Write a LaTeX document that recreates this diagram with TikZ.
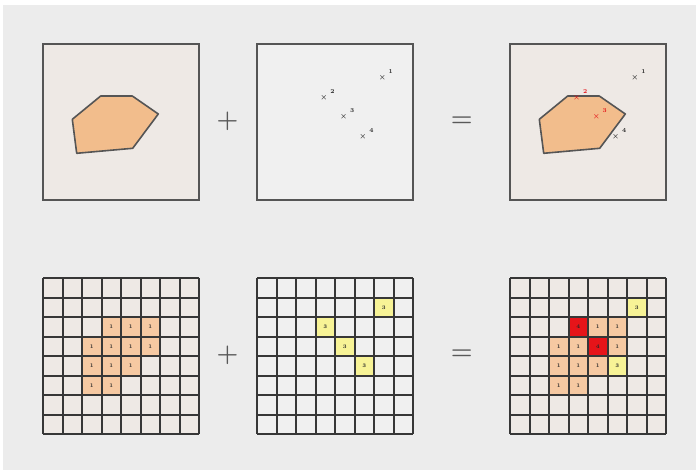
\documentclass[tikz,border=0pt]{standalone}
\usepackage{tikz}
\usepackage{bm}
\usepackage[svgnames]{xcolor}
\usetikzlibrary{positioning}
\definecolor{mbg}{RGB}{236, 236, 236}
\definecolor{mpaper}{RGB}{238, 233, 229}
\definecolor{mlight}{RGB}{240, 240, 240}
\definecolor{mpoly}{RGB}{242, 189, 140}
\definecolor{morange}{RGB}{246, 201, 162}
\definecolor{myellow}{RGB}{247, 243, 150}
\definecolor{mred}{RGB}{230, 20, 25}
\definecolor{mframe}{RGB}{85, 85, 85}
\definecolor{mgrid}{RGB}{55, 55, 55}
\tikzset{frame/.style = {draw=mframe, line width=2},
  gridline/.style = {draw=mgrid, line width=1.9},
  cellnum/.style = {inner sep=0, font=\fontsize{5.5}{5.5}\selectfont\bfseries, text=black!85},
  xmark/.style = {inner sep=0, font=\fontsize{7}{7}\selectfont\boldmath, text=black!85},
  ptlabel/.style = {inner sep=0, font=\fontsize{6}{6}\selectfont\bfseries, text=black!85},
  opsign/.style = {inner sep=0, font=\fontsize{27}{27}\selectfont, text=black!65}}
% cell: grid left, column, row, colour, number, name
\newcommand{\cellat}[6]{
  \fill[#4] ({#1+round(#2*19.5)}, {278+round(#3*19.5)})
    rectangle ({#1+round((#2+1)*19.5)}, {278+round((#3+1)*19.5)});
  \node[cellnum] (#6) at ({#1+(#2+0.5)*19.5}, {278+(#3+0.5)*19.5}) {#5};
}
\newcommand{\polyat}[1]{
  \draw[fill=mpoly, draw=mframe, line width=1.6, line join=round, shift={(#1, 0)}]
    (57.7, 96) -- (89.3, 96) -- (115.3, 114) -- (89.7, 148.3)
    -- (33.7, 153.3) -- (29.3, 119.3) -- cycle;
}
\newcommand{\gridat}[1]{
  \foreach \i in {0, ..., 8} {
    \draw[gridline] ({#1+round(\i*19.5)}, 278) -- ({#1+round(\i*19.5)}, 434);
    \draw[gridline] (#1, {278+round(\i*19.5)}) -- ({#1+156}, {278+round(\i*19.5)});
  }
}

\begin{document}
\begin{tikzpicture}[x=1pt, y=-1pt]
  \useasboundingbox (0, 0) rectangle (696, 470);
  \fill[white] (0, 0) rectangle (696, 470);
  \fill[mbg] (3, 5) rectangle (696, 470);

  % top row
  \fill[mpaper] (43, 44) rectangle (199, 200);
  \polyat{43}
  \draw[frame] (43, 44) rectangle (199, 200);

  \fill[mlight] (257, 44) rectangle (413, 200);
  \draw[frame] (257, 44) rectangle (413, 200);
  \foreach \n/\x/\y in {1/382.3/77.7, 2/324/97.3, 3/343.7/116.7, 4/363/136.3} {
    \node[xmark] (b\n) at (\x, \y) {$\bm{\times}$};
    \node[ptlabel] (bl\n) at ([shift={(8.5, -6)}]b\n.center) {\n};
  }

  \fill[mpaper] (510, 44) rectangle (666, 200);
  \polyat{510}
  \draw[frame] (510, 44) rectangle (666, 200);
  \foreach \n/\x/\y/\c in {1/635/77.7/black!85, 2/576.7/97.3/mred, 3/596.3/116.7/mred, 4/615.7/136.5/black!85} {
    \node[xmark, text=\c] (c\n) at (\x, \y) {$\bm{\times}$};
    \node[ptlabel, text=\c] (cl\n) at ([shift={(8.5, -6)}]c\n.center) {\n};
  }

  \node[opsign] (plustop) at (227.5, 121.7) {$\bm{+}$};
  \node[opsign] (eqtop) at (461.7, 121.7) {$\bm{=}$};

  % bottom row
  \fill[mpaper] (43, 278) rectangle (199, 434);
  \foreach \c/\r in {3/2, 4/2, 5/2, 2/3, 3/3, 4/3, 5/3, 2/4, 3/4, 4/4, 2/5, 3/5} {
    \cellat{43}{\c}{\r}{morange}{1}{g1-\r-\c}
  }
  \gridat{43}

  \fill[mlight] (257, 278) rectangle (413, 434);
  \foreach \c/\r in {6/1, 3/2, 4/3, 5/4} {
    \cellat{257}{\c}{\r}{myellow}{3}{g2-\r-\c}
  }
  \gridat{257}

  \fill[mpaper] (510, 278) rectangle (666, 434);
  \foreach \c/\r in {4/2, 5/2, 2/3, 3/3, 5/3, 2/4, 3/4, 4/4, 2/5, 3/5} {
    \cellat{510}{\c}{\r}{morange}{1}{g3-\r-\c}
  }
  \foreach \c/\r in {3/2, 4/3} {
    \cellat{510}{\c}{\r}{mred}{4}{g3-\r-\c}
  }
  \foreach \c/\r in {6/1, 5/4} {
    \cellat{510}{\c}{\r}{myellow}{3}{g3-\r-\c}
  }
  \gridat{510}

  \node[opsign] (plusbot) at (227.5, 355) {$\bm{+}$};
  \node[opsign] (eqbot) at (461.7, 355) {$\bm{=}$};
\end{tikzpicture}
\end{document}
